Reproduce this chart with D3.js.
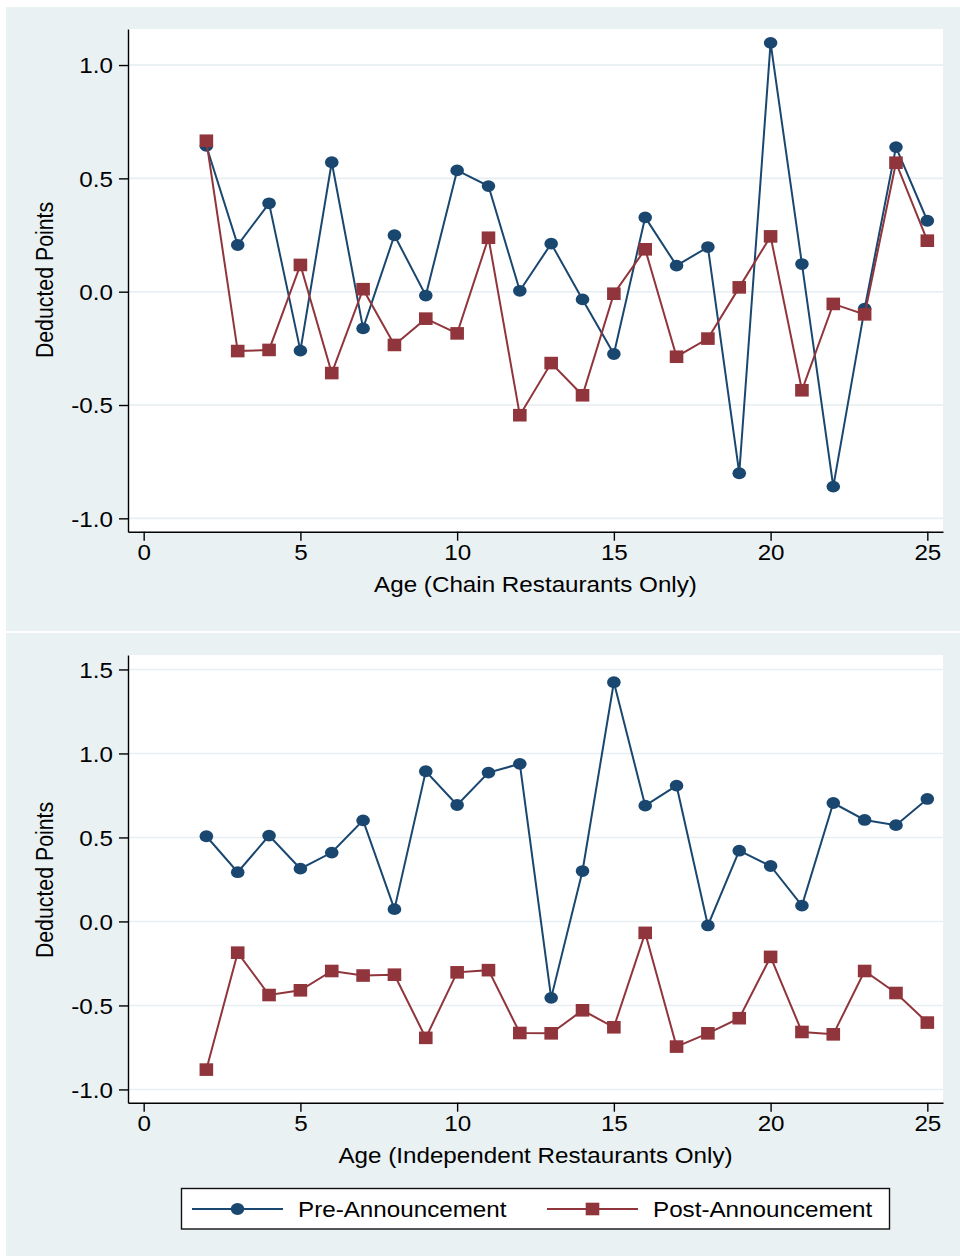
<!DOCTYPE html>
<html>
<head>
<meta charset="utf-8">
<script src="https://cdn.jsdelivr.net/npm/d3@7/dist/d3.min.js"></script>
<style>
  html, body { margin: 0; padding: 0; background: #ffffff; }
  svg { display: block; }
  text { font-family: "Liberation Sans", Arial, Helvetica, sans-serif; fill: #000; }
</style>
</head>
<body>
<svg id="chart" width="960" height="1256"></svg>
<script>
// ---------------- DATA ----------------
const ages = [2, 3, 4, 5, 6, 7, 8, 9, 10, 11, 12, 13, 14, 15, 16, 17, 18, 19, 20, 21, 22, 23, 24, 25];

const chainPre  = [0.643, 0.206, 0.390, -0.260, 0.571, -0.162, 0.249, -0.017, 0.535, 0.466, 0.004, 0.212,
                   -0.034, -0.275, 0.328, 0.115, 0.197, -0.801, 1.098, 0.122, -0.860, -0.075, 0.638, 0.313];
const chainPost = [0.666, -0.262, -0.257, 0.118, -0.359, 0.011, -0.235, -0.119, -0.184, 0.238, -0.545, -0.315,
                   -0.457, -0.009, 0.187, -0.287, -0.207, 0.019, 0.244, -0.435, -0.054, -0.100, 0.569, 0.225];

const indepPre  = [0.507, 0.293, 0.511, 0.314, 0.410, 0.602, 0.073, 0.894, 0.693, 0.886, 0.938, -0.455,
                   0.300, 1.424, 0.689, 0.808, -0.024, 0.421, 0.330, 0.094, 0.705, 0.604, 0.573, 0.729];
const indepPost = [-0.882, -0.186, -0.438, -0.410, -0.295, -0.322, -0.317, -0.693, -0.303, -0.290, -0.664, -0.666,
                   -0.529, -0.630, -0.068, -0.745, -0.666, -0.576, -0.211, -0.658, -0.672, -0.295, -0.426, -0.602];

const xTicks = [0, 5, 10, 15, 20, 25];
const chainYTicks = [-1.0, -0.5, 0.0, 0.5, 1.0];
const indepYTicks = [-1.0, -0.5, 0.0, 0.5, 1.0, 1.5];

const seriesNames = ["Pre-Announcement", "Post-Announcement"];
const yTitle = "Deducted Points";
const chainXTitle = "Age (Chain Restaurants Only)";
const indepXTitle = "Age (Independent Restaurants Only)";

// ---------------- STYLE ----------------
const BG = "#e9f1f3";
const GRID = "#e6eef1";
const NAVY = "#1a476f";
const RED = "#90353b";
const FONT = 22;
const YFONT = 21.3;
const STRETCH = 1.1;

const svg = d3.select("#chart");

function stretch(sel, f) {
  sel.each(function () {
    const w = this.getComputedTextLength();
    this.setAttribute("textLength", w * f);
    this.setAttribute("lengthAdjust", "spacingAndGlyphs");
  });
}

// panel backgrounds
svg.append("rect").attr("x", 6).attr("y", 7).attr("width", 954).attr("height", 624).attr("fill", BG);
svg.append("rect").attr("x", 6).attr("y", 633).attr("width", 954).attr("height", 623).attr("fill", BG);

const plotLeft = 128, plotRight = 943;
const x = d3.scaleLinear().domain([-0.5, 25.5]).range([plotLeft, plotRight]);

function drawPanel(cfg) {
  const y = d3.scaleLinear().domain(cfg.yDomain).range([cfg.bottom, cfg.top]);
  const g = svg.append("g");

  // plot region
  g.append("rect")
    .attr("x", plotLeft).attr("y", cfg.top)
    .attr("width", plotRight - plotLeft).attr("height", cfg.bottom - cfg.top)
    .attr("fill", "#ffffff");

  // grid
  g.append("g").selectAll("line").data(cfg.yTicks).join("line")
    .attr("x1", plotLeft).attr("x2", plotRight)
    .attr("y1", d => y(d)).attr("y2", d => y(d))
    .attr("stroke", GRID).attr("stroke-width", 1.6);

  // y axis
  const ya = g.append("g").attr("transform", `translate(${plotLeft},0)`)
    .call(d3.axisLeft(y).tickValues(cfg.yTicks).tickSize(9).tickSizeOuter(0)
      .tickPadding(6).tickFormat(d => d.toFixed(1)));
  ya.select(".domain").attr("stroke", "#000").attr("stroke-width", 1.4);
  ya.selectAll(".tick line").attr("stroke", "#000").attr("stroke-width", 1.4);
  ya.selectAll(".tick text").attr("font-size", FONT).attr("font-family", null).attr("dy", "0.35em")
    .attr("fill", "#000").call(stretch, STRETCH);

  // x axis
  const xa = g.append("g").attr("transform", `translate(0,${cfg.bottom})`)
    .call(d3.axisBottom(x).tickValues(xTicks).tickSize(9).tickSizeOuter(0).tickFormat(d => String(d)));
  xa.select(".domain").attr("stroke", "#000").attr("stroke-width", 1.4);
  xa.selectAll(".tick line").attr("stroke", "#000").attr("stroke-width", 1.4);
  xa.selectAll(".tick text").attr("font-size", FONT).attr("font-family", null)
    .attr("y", 28.5).attr("dy", null).attr("fill", "#000").call(stretch, STRETCH);

  // axis titles
  g.append("text")
    .attr("transform", `translate(53,${cfg.yTitleCenter}) scale(${STRETCH},1) rotate(-90)`)
    .attr("text-anchor", "middle").attr("font-size", YFONT)
    .text(yTitle);

  g.append("text")
    .attr("x", (plotLeft + plotRight) / 2).attr("y", cfg.bottom + 60.5)
    .attr("text-anchor", "middle").attr("font-size", FONT)
    .text(cfg.xTitle).call(stretch, STRETCH);

  const line = d3.line().x(d => x(d[0])).y(d => y(d[1]));

  const pre = ages.map((a, i) => [a, cfg.pre[i]]);
  const post = ages.map((a, i) => [a, cfg.post[i]]);

  g.append("path").datum(pre).attr("d", line)
    .attr("fill", "none").attr("stroke", NAVY).attr("stroke-width", 2);
  g.append("g").selectAll("ellipse").data(pre).join("ellipse")
    .attr("cx", d => x(d[0])).attr("cy", d => y(d[1]))
    .attr("rx", 6.8).attr("ry", 5.9).attr("fill", NAVY);

  g.append("path").datum(post).attr("d", line)
    .attr("fill", "none").attr("stroke", RED).attr("stroke-width", 2);
  g.append("g").selectAll("rect").data(post).join("rect")
    .attr("x", d => x(d[0]) - 6.8).attr("y", d => y(d[1]) - 6.3)
    .attr("width", 13.6).attr("height", 12.6).attr("fill", RED);
}

drawPanel({
  top: 29, bottom: 531.7, yDomain: [-1.059, 1.159], yTicks: chainYTicks,
  pre: chainPre, post: chainPost, xTitle: chainXTitle, yTitleCenter: 280
});

drawPanel({
  top: 655, bottom: 1102.7, yDomain: [-1.079, 1.586], yTicks: indepYTicks,
  pre: indepPre, post: indepPost, xTitle: indepXTitle, yTitleCenter: 880
});

// ---------------- LEGEND ----------------
const lg = svg.append("g");
lg.append("rect").attr("x", 181.5).attr("y", 1188.5).attr("width", 708).attr("height", 40.5)
  .attr("fill", "#ffffff").attr("stroke", "#111").attr("stroke-width", 1.4);

const legendItems = [
  { name: seriesNames[0], color: NAVY, shape: "circle", x0: 192, x1: 283, tx: 298 },
  { name: seriesNames[1], color: RED, shape: "square", x0: 547, x1: 638, tx: 653 }
];
const ly = 1209;
legendItems.forEach(it => {
  lg.append("line").attr("x1", it.x0).attr("x2", it.x1).attr("y1", ly).attr("y2", ly)
    .attr("stroke", it.color).attr("stroke-width", 2);
  const cx = (it.x0 + it.x1) / 2;
  if (it.shape === "circle") {
    lg.append("ellipse").attr("cx", cx).attr("cy", ly).attr("rx", 6.8).attr("ry", 5.9).attr("fill", it.color);
  } else {
    lg.append("rect").attr("x", cx - 6.8).attr("y", ly - 6.3).attr("width", 13.6).attr("height", 12.6).attr("fill", it.color);
  }
  lg.append("text").attr("x", it.tx).attr("y", 1216.5).attr("font-size", FONT)
    .text(it.name).call(stretch, STRETCH);
});
</script>
</body>
</html>
